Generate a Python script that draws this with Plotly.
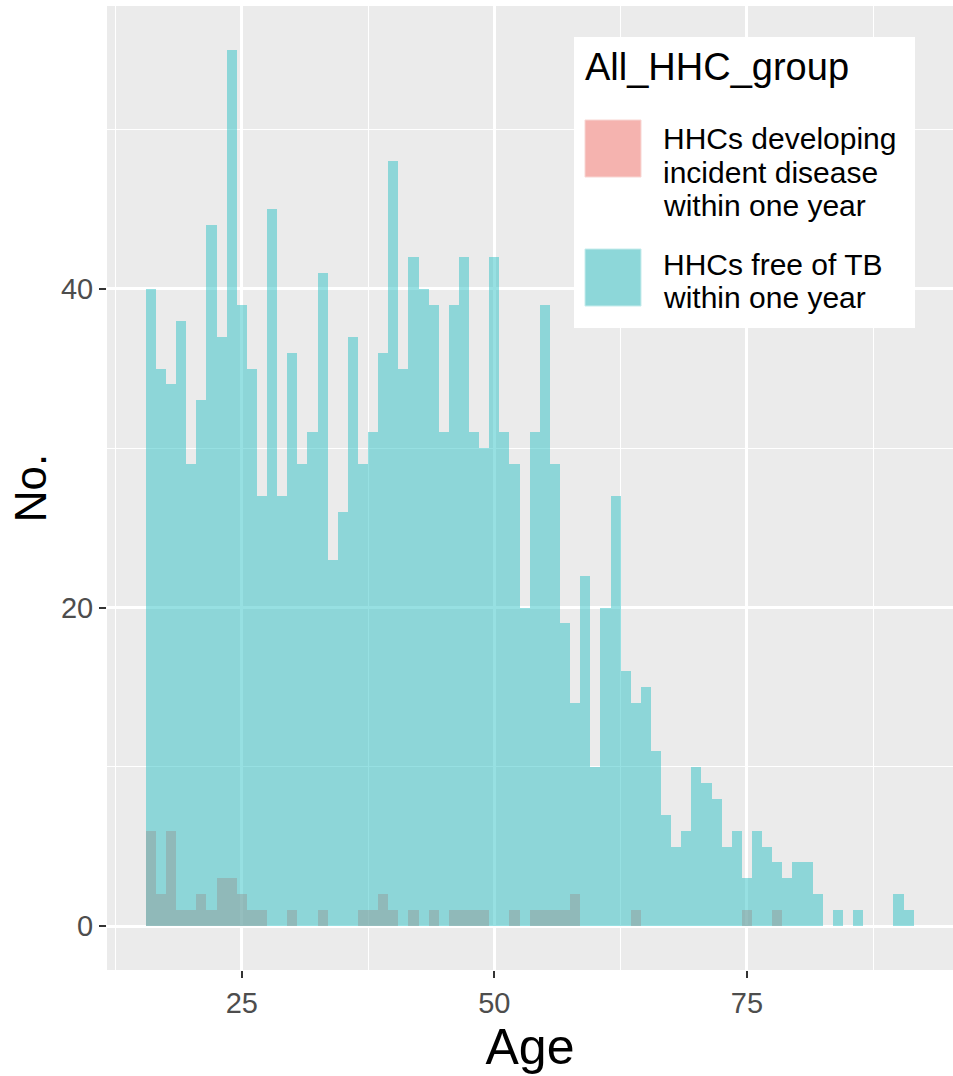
import plotly.graph_objects as go

ages = list(range(16, 92))
free_tb = [40, 35, 34, 38, 29, 33, 44, 37, 55, 39,
           35, 27, 45, 27, 36, 29, 31, 41, 23, 26,
           37, 29, 31, 36, 48, 35, 42, 40, 39, 31,
           39, 42, 31, 30, 42, 31, 29, 20, 31, 39,
           29, 19, 14, 22, 10, 20, 27, 16, 14, 15,
           11, 7, 5, 6, 10, 9, 8, 5, 6, 3,
           6, 5, 4, 3, 4, 4, 2, 0, 1, 0,
           1, 0, 0, 0, 2, 1]
incident = [6, 2, 6, 1, 1, 2, 1, 3, 3, 2,
            1, 1, 0, 0, 1, 0, 0, 1, 0, 0,
            0, 1, 1, 2, 1, 0, 1, 0, 1, 0,
            1, 1, 1, 1, 0, 0, 1, 0, 1, 1,
            1, 1, 2, 0, 0, 0, 0, 0, 1, 0,
            0, 0, 0, 0, 0, 0, 0, 0, 0, 1,
            0, 0, 1, 0, 0, 0, 0, 0, 0, 0,
            0, 0, 0, 0, 0, 0]

group_title = "All_HHC_group"
group_names = ["HHCs developing incident disease within one year",
               "HHCs free of TB within one year"]
legend_lines = [["HHCs developing", "incident disease", "within one year"],
                ["HHCs free of TB", "within one year"]]
x_ticks = [25, 50, 75]
y_ticks = [0, 20, 40]

PINK = "rgba(248,118,109,0.5)"
CYAN = "rgba(47,193,197,0.5)"
FONT = "Liberation Sans, Arial, sans-serif"

W, H = 953, 1076
ML, MR, MT, MB = 107, 0, 6, 106
PW, PH = W - ML - MR, H - MT - MB


def px(x):
    return (x - ML) / PW


def py(y):
    return (H - MB - y) / PH


fig = go.Figure()
fig.add_trace(go.Bar(x=ages, y=incident, width=1, name=group_names[0],
                     marker=dict(color=PINK, line=dict(width=0)), showlegend=False))
fig.add_trace(go.Bar(x=ages, y=free_tb, width=1, name=group_names[1],
                     marker=dict(color=CYAN, line=dict(width=0)), showlegend=False))

shapes = [
    dict(type="rect", xref="paper", yref="paper", x0=px(574), x1=px(915), y0=py(328), y1=py(37),
         fillcolor="white", line=dict(width=0), layer="above"),
    dict(type="rect", xref="paper", yref="paper", x0=px(585), x1=px(641), y0=py(177), y1=py(120),
         fillcolor="#F5B3AF", line=dict(width=1, color="#F8D6D3"), layer="above"),
    dict(type="rect", xref="paper", yref="paper", x0=px(585), x1=px(641), y0=py(306), y1=py(249),
         fillcolor="#8DD7D9", line=dict(width=1, color="#C6ECEC"), layer="above"),
]
annotations = [dict(text=group_title, xref="paper", yref="paper", x=px(583), y=py(67),
                    xanchor="left", yanchor="middle", showarrow=False,
                    font=dict(family=FONT, size=38, color="black"))]
line_y = [[139, 172, 205], [264, 297]]
for lines, ys in zip(legend_lines, line_y):
    for t, yy in zip(lines, ys):
        annotations.append(dict(text=t, xref="paper", yref="paper", x=px(661), y=py(yy),
                                xanchor="left", yanchor="middle", showarrow=False,
                                font=dict(family=FONT, size=30, color="black")))

fig.update_layout(
    width=W, height=H, margin=dict(l=ML, r=MR, t=MT, b=MB, pad=0),
    barmode="overlay", bargap=0,
    paper_bgcolor="white", plot_bgcolor="#EBEBEB",
    font=dict(family=FONT),
    shapes=shapes, annotations=annotations,
    xaxis=dict(range=[11.66, 95.4], tickvals=x_ticks, ticktext=[str(v) for v in x_ticks],
               showgrid=True, gridcolor="white", gridwidth=2.5, zeroline=False, showline=False,
               ticks="outside", ticklen=7, tickwidth=2, tickcolor="#333333",
               tickfont=dict(family=FONT, size=29, color="#4D4D4D"),
               minor=dict(tickvals=[12.5, 37.5, 62.5, 87.5], showgrid=True, gridcolor="white",
                          gridwidth=1.2, ticks=""),
               title=dict(text="Age", font=dict(family=FONT, size=50, color="black"), standoff=8)),
    yaxis=dict(range=[-2.75, 57.75], tickvals=y_ticks, ticktext=[str(v) for v in y_ticks],
               showgrid=True, gridcolor="white", gridwidth=2.5, zeroline=False, showline=False,
               ticks="outside", ticklen=7, tickwidth=2, tickcolor="#333333",
               tickfont=dict(family=FONT, size=29, color="#4D4D4D"),
               minor=dict(tickvals=[10, 30, 50], showgrid=True, gridcolor="white",
                          gridwidth=1.2, ticks=""),
               title=dict(text="No.", font=dict(family=FONT, size=44, color="black"), standoff=0)),
)

fig.write_html("out.html")
